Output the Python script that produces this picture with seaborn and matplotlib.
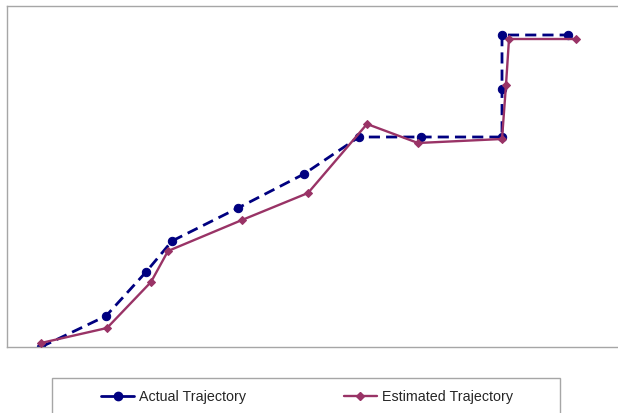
import matplotlib
matplotlib.use("Agg")
import matplotlib.pyplot as plt
import seaborn as sns
import pandas as pd
from matplotlib.lines import Line2D
from matplotlib.patches import Rectangle

# values (arbitrary units, origin at lower-left of plot area)
actual_x = [34, 99, 139, 165, 231, 297, 352, 414, 495, 495, 495, 561]
actual_y = [0, 31, 75, 106, 139, 173, 210, 210, 210, 258, 312, 312]
estimated_x = [34, 100, 144, 161, 235, 301, 360, 411, 495, 499, 502, 569]
estimated_y = [4, 19, 65, 96, 127, 154, 223, 204, 208, 262, 308, 308]

NAVY = '#000080'
MAROON = '#993366'

sns.set_theme(style="white")
plt.rcParams['font.family'] = ['Liberation Sans', 'DejaVu Sans']

fig = plt.figure(figsize=(6.18, 4.13), dpi=100)
ax = fig.add_axes([7 / 618, (413 - 347) / 413, 611 / 618, 341 / 413])

df_act = pd.DataFrame({'x': actual_x, 'y': actual_y})
df_est = pd.DataFrame({'x': estimated_x, 'y': estimated_y})

sns.lineplot(data=df_act, x='x', y='y', sort=False, estimator=None, ax=ax,
             color=NAVY, linewidth=2.0, marker='o', markersize=6,
             markeredgecolor=NAVY, zorder=2)
ax.lines[-1].set_dashes([4, 2.2])
sns.lineplot(data=df_est, x='x', y='y', sort=False, estimator=None, ax=ax,
             color=MAROON, linewidth=1.7, marker='D', markersize=3.6,
             markeredgecolor=MAROON, zorder=3)

ax.set_xlim(0, 611)
ax.set_ylim(0, 341)
ax.set_xticks([])
ax.set_yticks([])
ax.set_xlabel('')
ax.set_ylabel('')
ax.spines['right'].set_visible(False)
for side in ['left', 'top', 'bottom']:
    ax.spines[side].set_color('#a6a6a6')
    ax.spines[side].set_linewidth(1.0)

# legend box, open at the bottom edge of the figure
fig.patches.append(Rectangle((52 / 618, -0.05), 508 / 618, (413 - 378) / 413 + 0.05,
                             transform=fig.transFigure, fill=False,
                             edgecolor='#a6a6a6', linewidth=1.0))

handles = [
    Line2D([], [], color=NAVY, linewidth=2.0, marker='o', markersize=6),
    Line2D([], [], color=MAROON, linewidth=1.7, marker='D', markersize=3.6),
]
fig.legend(handles, ['Actual Trajectory', 'Estimated Trajectory'],
           loc='center', bbox_to_anchor=(307 / 618, (413 - 397) / 413),
           ncol=2, frameon=False, fontsize=10.3, handlelength=2.3,
           handletextpad=0.35, columnspacing=6.8)

fig.savefig('out.png', dpi=100)
